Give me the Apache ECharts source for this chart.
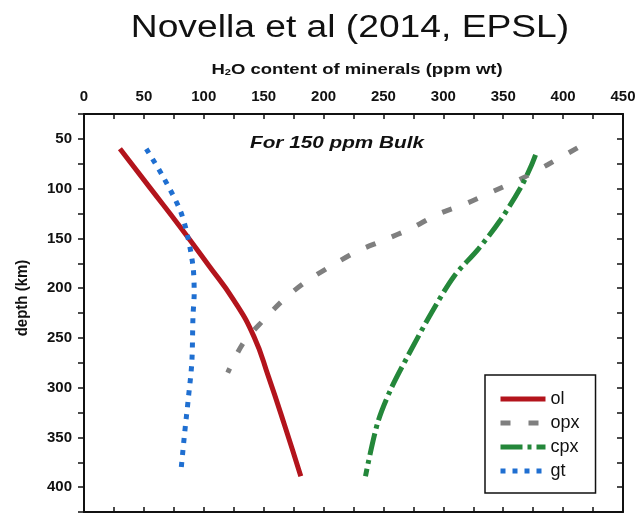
<!DOCTYPE html>
<html>
<head>
<meta charset="utf-8">
<script src="https://cdn.jsdelivr.net/npm/echarts@6/dist/echarts.min.js"></script>
<style>html,body{margin:0;padding:0;background:#fff;}#c{width:642px;height:519px;}</style>
</head>
<body>
<div id="c"></div>
<script>
// [H2O ppm wt, depth km]
const olData  = [[30,60],[55,99],[80,138],[104,177],[125,212],[142,249],[154,289],[167,336],[181,389]];
const opxData = [[412,59],[387,76],[365,90],[341,103],[319,115],[295,126],[273,140],[250,152],[228,163],[206,178],[186,193],[168,210],[150,232],[133,255],[120,285]];
const cpxData = [[377,66],[373,78],[365,98],[348,131],[329,161],[309,188],[290,225],[270,269],[256,302],[245,336],[235,389]];
const gtData  = [[52,60],[66,88],[80,121],[86,145],[91,178],[92,205],[91,228],[90,275],[87,312],[84,346],[81,383]];
const seriesNames = ['ol','opx','cpx','gt'];
const xTicks = [0,50,100,150,200,250,300,350,400,450];
const yTicks = [50,100,150,200,250,300,350,400];

const FONT = '"Liberation Sans", Arial, sans-serif';
const chart = echarts.init(document.getElementById('c'), null, {renderer:'canvas'});
const lblStyle = {fontFamily: FONT, fontWeight: 'bold', fontSize: 15, color: '#111'};
const axisLineStyle = {lineStyle: {color: '#111', width: 2}};

chart.setOption({
  animation: false,
  backgroundColor: '#fff',
  grid: {left: 84, right: 19, top: 114, bottom: 7, containLabel: false},
  xAxis: [
    {type: 'value', position: 'top', min: 0, max: 450, interval: 25,
     axisLine: Object.assign({show: true, onZero: false}, axisLineStyle),
     axisTick: {show: true, inside: true, length: 5, lineStyle: {color: '#111', width: 1.5}},
     axisLabel: Object.assign({margin: 10, formatter: v => xTicks.includes(v) ? String(v) : ''}, lblStyle),
     splitLine: {show: false}},
    {type: 'value', position: 'bottom', min: 0, max: 450, interval: 25,
     axisLine: Object.assign({show: true, onZero: false}, axisLineStyle),
     axisTick: {show: true, inside: true, length: 5, lineStyle: {color: '#111', width: 1.5}},
     axisLabel: {show: false}, splitLine: {show: false}}
  ],
  yAxis: [
    {type: 'value', position: 'left', inverse: true, min: 25, max: 425, interval: 25,
     axisLine: Object.assign({show: true, onZero: false}, axisLineStyle),
     axisTick: {show: true, inside: false, length: 6, lineStyle: {color: '#111', width: 1.5}},
     axisLabel: Object.assign({margin: 12, formatter: v => yTicks.includes(v) ? String(v) : ''}, lblStyle),
     splitLine: {show: false}},
    {type: 'value', position: 'right', inverse: true, min: 25, max: 425, interval: 25,
     axisLine: Object.assign({show: true, onZero: false}, axisLineStyle),
     axisTick: {show: true, inside: true, length: 6, lineStyle: {color: '#111', width: 1.5}},
     axisLabel: {show: false}, splitLine: {show: false}}
  ],
  legend: {
    orient: 'vertical', left: 485, top: 375,
    data: seriesNames,
    itemWidth: 45, itemHeight: 14, itemGap: 6,
    padding: [15, 16, 13, 13],
    borderColor: '#111', borderWidth: 1.5, borderRadius: 0,
    backgroundColor: '#fff',
    itemStyle: {color: 'rgba(0,0,0,0)', borderColor: 'rgba(0,0,0,0)', borderWidth: 0},
    lineStyle: {width: 5},
    textStyle: {fontFamily: FONT, fontSize: 18, color: '#111'}
  },
  series: [
    {name: 'ol', type: 'line', data: olData, xAxisIndex: 0, yAxisIndex: 0, symbol: 'none', smooth: 0.5,
     lineStyle: {color: '#b3141c', width: 5}, itemStyle: {color: '#b3141c'}},
    {name: 'opx', type: 'line', data: opxData, xAxisIndex: 0, yAxisIndex: 0, symbol: 'none', smooth: 0.3,
     lineStyle: {color: '#7f7f7f', width: 5, type: [10, 18]}, itemStyle: {color: '#7f7f7f'}},
    {name: 'cpx', type: 'line', data: cpxData, xAxisIndex: 0, yAxisIndex: 0, symbol: 'none', smooth: 0.3,
     lineStyle: {color: '#24873a', width: 5, type: [22, 5, 4, 5]}, itemStyle: {color: '#24873a'}},
    {name: 'gt', type: 'line', data: gtData, xAxisIndex: 0, yAxisIndex: 0, symbol: 'none', smooth: 0.3,
     lineStyle: {color: '#1f6fd1', width: 5, type: [5, 7]}, itemStyle: {color: '#1f6fd1'}}
  ],
  graphic: [
    {type: 'text', x: 350, y: 28, scaleX: 1.2, silent: true,
     style: {text: 'Novella et al (2014, EPSL)', align: 'center', verticalAlign: 'middle', font: '31px ' + FONT, fill: '#111'}},
    {type: 'text', x: 357, y: 70, scaleX: 1.23, silent: true,
     style: {text: 'H{sub|2}O content of minerals (ppm wt)', align: 'center', verticalAlign: 'middle',
       font: 'bold 15px ' + FONT, fill: '#111',
       rich: {sub: {fontSize: 9, fontWeight: 'bold', fontFamily: FONT, verticalAlign: 'bottom', padding: [6, 0, 0, 0]}}}},
    {type: 'text', x: 22, y: 298, rotation: Math.PI / 2, scaleY: 1.15, silent: true,
     style: {text: 'depth (km)', align: 'center', verticalAlign: 'middle', font: 'bold 15px ' + FONT, fill: '#111'}},
    {type: 'text', x: 337, y: 143, scaleX: 1.22, silent: true,
     style: {text: 'For 150 ppm Bulk', align: 'center', verticalAlign: 'middle', font: 'italic bold 17px ' + FONT, fill: '#111'}}
  ]
});
</script>
</body>
</html>
